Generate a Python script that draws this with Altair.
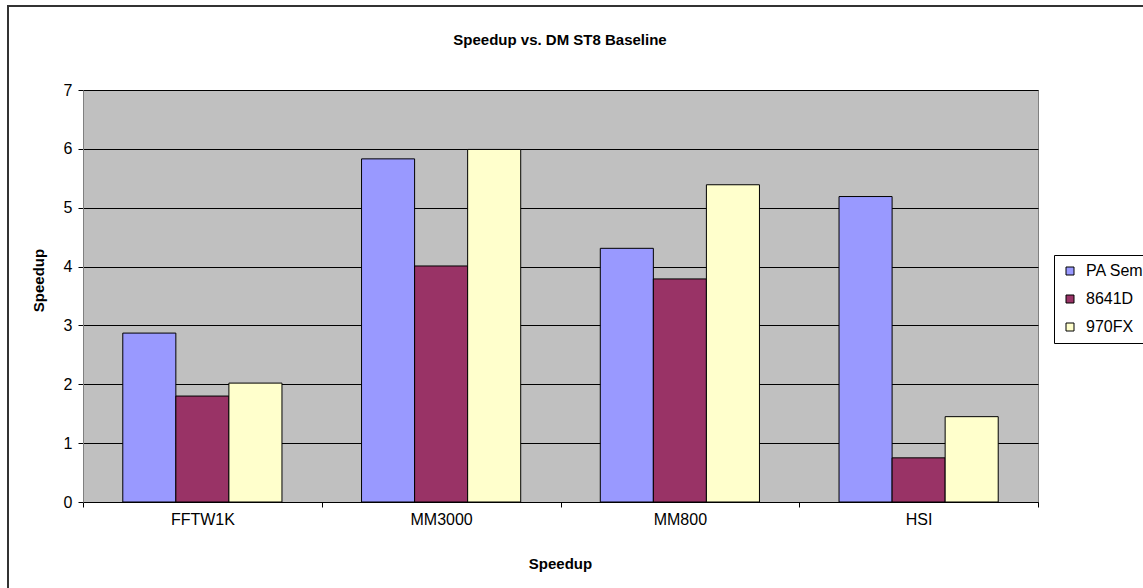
import altair as alt
import pandas as pd

categories = ["FFTW1K", "MM3000", "MM800", "HSI"]
series = ["PA Semi", "8641D", "970FX"]
pa_semi = [2.87, 5.83, 4.31, 5.19]
d8641 = [1.80, 4.01, 3.79, 0.75]
fx970 = [2.02, 5.99, 5.39, 1.45]
colors = ["#9999FF", "#993366", "#FFFFCC"]
chart_title = ["Speedup vs. DM ST8 Baseline"]

rows = []
for i, c in enumerate(categories):
    for s, vals in zip(series, [pa_semi, d8641, fx970]):
        rows.append({"benchmark": c, "system": s, "speedup": vals[i]})
df = pd.DataFrame(rows)

FONT = "Liberation Sans"

frame = alt.Chart(pd.DataFrame({"a": [0]})).mark_rect(
    fill="white", fillOpacity=0, stroke="#333333", strokeWidth=2
).encode(
    x=alt.value(-75), x2=alt.value(1400),
    y=alt.value(-84), y2=alt.value(800),
)

title = alt.Chart(pd.DataFrame({"t": chart_title})).mark_text(
    font=FONT, fontSize=15, fontWeight="bold", color="black",
    align="center", baseline="middle"
).encode(text="t:N", x=alt.value(477), y=alt.value(-50))

bars = alt.Chart(df).mark_bar(stroke="black", strokeWidth=1).encode(
    x=alt.X("benchmark:N", sort=categories,
            scale=alt.Scale(paddingInner=0, paddingOuter=0),
            axis=alt.Axis(title="Speedup", labelAngle=0, tickBand="extent",
                          domainColor="black", tickColor="black", tickSize=5,
                          labelFontSize=16, labelPadding=4, labelColor="black",
                          titleFontSize=15, titleFontWeight="bold", titleColor="black",
                          titleX=477, titleY=61, titleBaseline="middle",
                          titleAlign="center")),
    xOffset=alt.XOffset("system:N", sort=series,
                        scale=alt.Scale(paddingInner=0, paddingOuter=0.75)),
    y=alt.Y("speedup:Q",
            scale=alt.Scale(domain=[0, 7], nice=False),
            axis=alt.Axis(title="Speedup", values=[0, 1, 2, 3, 4, 5, 6, 7],
                          grid=True, gridColor="black", gridOpacity=1,
                          domainColor="#808080", tickColor="black", tickSize=5,
                          labelFontSize=16, labelPadding=6, labelColor="black",
                          titleFontSize=15, titleFontWeight="bold", titleColor="black",
                          titleX=-45, titleY=190, titleAngle=-90,
                          titleBaseline="middle", titleAlign="center")),
    fill=alt.Fill("system:N", sort=series,
                  scale=alt.Scale(domain=series, range=colors),
                  legend=alt.Legend(title=None, orient="none", legendX=971, legendY=165,
                                    symbolType="square", symbolSize=64,
                                    symbolStrokeColor="black", symbolStrokeWidth=1,
                                    labelFontSize=16, labelColor="black", labelOffset=8,
                                    rowPadding=12, padding=8,
                                    strokeColor="black", fillColor="white")),
)

chart = alt.layer(frame, title, bars).properties(
    width=955, height=412,
    padding={"left": 83, "top": 90, "right": 105, "bottom": 86},
    autosize=alt.AutoSizeParams(type="none"),
).configure(font=FONT, background="white").configure_view(
    fill="#C0C0C0", stroke="#808080", strokeWidth=1
).configure_axis(labelFont=FONT, titleFont=FONT).configure_legend(labelFont=FONT)

chart.save("out.html", embed_options={"renderer": "svg", "actions": False})
